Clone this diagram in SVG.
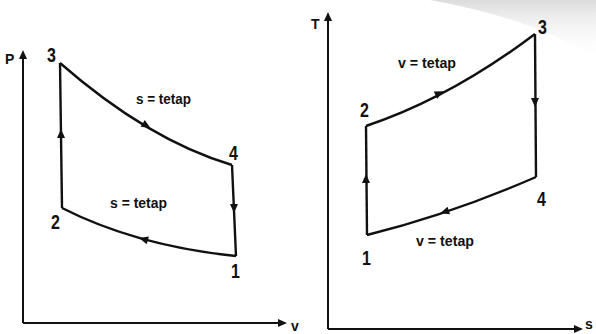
<svg xmlns="http://www.w3.org/2000/svg" xmlns:xlink="http://www.w3.org/1999/xlink" width="596" height="334" viewBox="0 0 596 334">
<style>
.ax{stroke:#111;stroke-width:2;fill:none}
.cy{stroke:#111;stroke-width:2.4;fill:none;stroke-linejoin:round}
.num{font-family:"Liberation Sans",Arial,sans-serif;font-weight:bold;font-size:20px;fill:#111}
.lbl{font-family:"Liberation Sans",Arial,sans-serif;font-weight:bold;font-size:14px;fill:#111}
.axl{font-family:"Liberation Sans",Arial,sans-serif;font-weight:bold;font-size:14px;fill:#111}
</style>
<defs>
<polygon id="ah" points="4,0 -5,-4 -5,4" fill="#111"/>
<polygon id="axh" points="0,0 -9,-4 -9,4" fill="#111"/>
<linearGradient id="sh" x1="0" y1="0" x2="0" y2="1">
<stop offset="0" stop-color="#d8d8d8" stop-opacity="0.9"/>
<stop offset="1" stop-color="#ffffff" stop-opacity="0"/>
</linearGradient>
</defs>
<rect width="596" height="334" fill="#fff"/>
<path d="M430,0 L596,0 L596,60 Q540,20 430,0 Z" fill="url(#sh)"/>
<g id="connectors">
<line class="ax" x1="23" y1="52" x2="23" y2="323"/>
<line class="ax" x1="23" y1="323" x2="284" y2="323"/>
<use xlink:href="#axh" transform="translate(23,50) rotate(-90)"/>
<use xlink:href="#axh" transform="translate(287,323)"/>
<path class="cy" d="M62,208 L60,63"/>
<path class="cy" d="M60,63 Q148,140 232,165"/>
<path class="cy" d="M232,165 L236,256"/>
<path class="cy" d="M236,256 Q137,246 62,208"/>
<use xlink:href="#ah" transform="translate(61,133) rotate(-90)"/>
<use xlink:href="#ah" transform="translate(147,126) rotate(31)"/>
<use xlink:href="#ah" transform="translate(234,209) rotate(90)"/>
<use xlink:href="#ah" transform="translate(143,239) rotate(196)"/>
<line class="ax" x1="328" y1="14" x2="328" y2="329"/>
<line class="ax" x1="328" y1="329" x2="580" y2="329"/>
<use xlink:href="#axh" transform="translate(583,329)"/>
<use xlink:href="#axh" transform="translate(328,12) rotate(-90)"/>
<path class="cy" d="M367,235 L366,126"/>
<path class="cy" d="M366,126 Q450,98 535,34"/>
<path class="cy" d="M535,34 L536,177"/>
<path class="cy" d="M536,177 Q451,214 367,235"/>
<use xlink:href="#ah" transform="translate(366,178) rotate(-90)"/>
<use xlink:href="#ah" transform="translate(440,93) rotate(-25)"/>
<use xlink:href="#ah" transform="translate(535,103) rotate(90)"/>
<use xlink:href="#ah" transform="translate(444,212) rotate(162)"/>
</g>
<g id="left-axis-labels">
<text class="axl" x="5" y="64">P</text>
<text class="axl" x="291" y="331">v</text>
</g>
<g id="p1"><text class="num" transform="translate(231,278) scale(0.8,1)">1</text></g>
<g id="p2"><text class="num" transform="translate(51,229) scale(0.8,1)">2</text></g>
<g id="p3"><text class="num" transform="translate(47,62) scale(0.8,1)">3</text></g>
<g id="p4"><text class="num" transform="translate(229,160) scale(0.8,1)">4</text></g>
<g id="lbl-top-left"><text class="lbl" x="136" y="104" textLength="55" lengthAdjust="spacingAndGlyphs">s = tetap</text></g>
<g id="lbl-bot-left"><text class="lbl" x="110" y="208" textLength="57" lengthAdjust="spacingAndGlyphs">s = tetap</text></g>
<g id="right-axis-labels">
<text class="axl" x="311" y="29">T</text>
<text class="axl" x="585" y="329" font-size="12">s</text>
</g>
<g id="q1"><text class="num" transform="translate(362,265) scale(0.8,1)">1</text></g>
<g id="q2"><text class="num" transform="translate(360,117) scale(0.8,1)">2</text></g>
<g id="q3"><text class="num" transform="translate(538,34) scale(0.8,1)">3</text></g>
<g id="q4"><text class="num" transform="translate(537,206) scale(0.8,1)">4</text></g>
<g id="lbl-top-right"><text class="lbl" x="398" y="68" textLength="58" lengthAdjust="spacingAndGlyphs">v = tetap</text></g>
<g id="lbl-bot-right"><text class="lbl" x="416" y="246" textLength="58" lengthAdjust="spacingAndGlyphs">v = tetap</text></g>
</svg>
